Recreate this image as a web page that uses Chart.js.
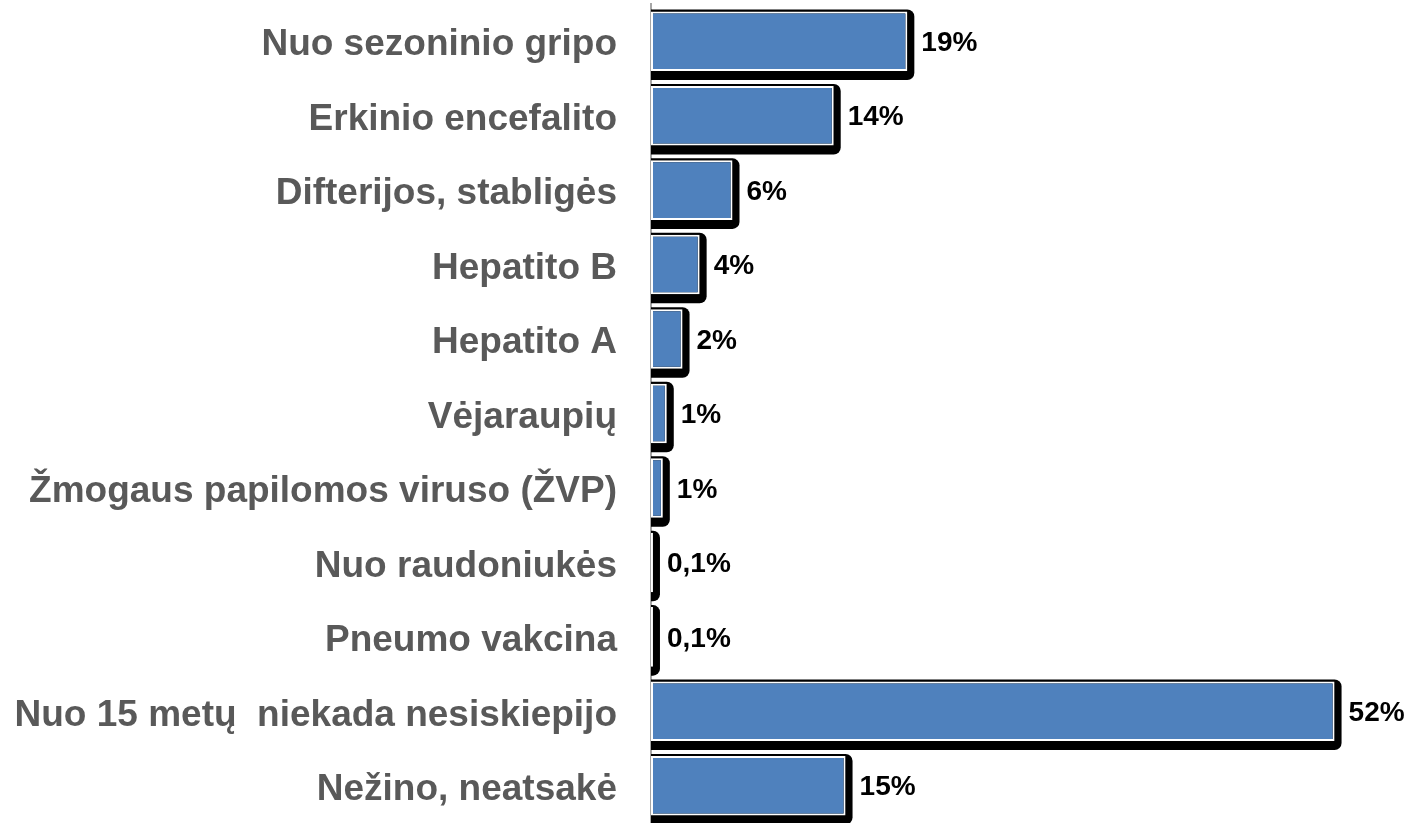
<!DOCTYPE html>
<html>
<head>
<meta charset="utf-8">
<script src="https://cdn.jsdelivr.net/npm/chart.js@4"></script>
<style>
  html, body { margin: 0; padding: 0; background: #fff; }
  #wrap { width: 1408px; height: 823px; }
</style>
</head>
<body>
<div id="wrap"><canvas id="grafikas" width="1408" height="823"></canvas></div>
<script>
// Kategorijos (skiepai)
const kategorijos = [
    'Nuo sezoninio gripo',
    'Erkinio encefalito',
    'Difterijos, stabligės',
    'Hepatito B',
    'Hepatito A',
    'Vėjaraupių',
    'Žmogaus papilomos viruso (ŽVP)',
    'Nuo raudoniukės',
    'Pneumo vakcina',
    'Nuo 15 metų  niekada nesiskiepijo',
    'Nežino, neatsakė'
];
// Reikšmės procentais (nuskaitytos nuo stulpelių ilgio)
const reiksmes = [19.5, 13.9, 6.2, 3.7, 2.4, 1.2, 0.9, 0.15, 0.15, 52, 14.8];
// Užrašai prie stulpelių
const uzrasai = ['19%', '14%', '6%', '4%', '2%', '1%', '1%', '0,1%', '0,1%', '52%', '15%'];

const SRIFTAS = '"Liberation Sans", Arial, sans-serif';

// Juodas "šešėlis" už kiekvieno stulpelio
const seselis = {
    id: 'seselis',
    beforeDatasetsDraw(chart) {
        const ctx = chart.ctx;
        const meta = chart.getDatasetMeta(0);
        ctx.save();
        ctx.fillStyle = '#000';
        meta.data.forEach(function (bar) {
            const p = bar.getProps(['x', 'y', 'base', 'height'], true);
            const virsus = p.y - p.height / 2 - 2;
            const apacia = p.y + p.height / 2 + 9;
            const desine = p.x + 7;
            ctx.beginPath();
            ctx.roundRect(p.base, virsus, desine - p.base, apacia - virsus, [0, 7, 7, 0]);
            ctx.fill();
        });
        ctx.restore();
    }
};

// Reikšmių užrašai dešinėje
const reiksmiuUzrasai = {
    id: 'reiksmiuUzrasai',
    afterDatasetsDraw(chart) {
        const ctx = chart.ctx;
        const meta = chart.getDatasetMeta(0);
        ctx.save();
        ctx.fillStyle = '#000';
        ctx.font = 'bold 28px ' + SRIFTAS;
        ctx.textAlign = 'left';
        ctx.textBaseline = 'middle';
        meta.data.forEach(function (bar, i) {
            const p = bar.getProps(['x', 'y'], true);
            ctx.fillText(uzrasai[i], p.x + 14, p.y + 2);
        });
        ctx.restore();
    }
};

const ctx = document.getElementById('grafikas').getContext('2d');
const grafikas = new Chart(ctx, {
    type: 'bar',
    data: {
        labels: kategorijos,
        datasets: [{
            data: reiksmes,
            backgroundColor: '#4F81BD',
            borderColor: '#FFFFFF',
            borderWidth: 2,
            borderSkipped: false,
            categoryPercentage: 1,
            barPercentage: 0.8
        }]
    },
    options: {
        indexAxis: 'y',
        responsive: false,
        animation: false,
        layout: { padding: { top: 4, right: 34, bottom: 0, left: 0 } },
        plugins: {
            legend: { display: false },
            tooltip: { enabled: false }
        },
        scales: {
            x: {
                display: false,
                min: 0,
                max: 55
            },
            y: {
                afterFit: function (scale) {
                    scale.width = 651;
                    // be papildomo tarpo viršuje ir apačioje
                    scale.paddingTop = 0;
                    scale.paddingBottom = 0;
                },
                grid: { display: false, drawTicks: false },
                border: { display: true, color: '#A6A6A6', width: 2 },
                ticks: {
                    color: '#595959',
                    padding: 34,
                    labelOffset: 4,
                    font: { family: SRIFTAS, size: 37, weight: 'bold' }
                }
            }
        }
    },
    plugins: [seselis, reiksmiuUzrasai]
});
</script>
</body>
</html>
